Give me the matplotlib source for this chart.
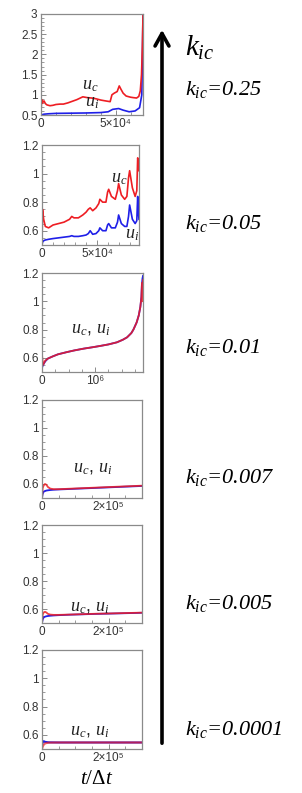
import matplotlib
matplotlib.use('Agg')

import matplotlib.pyplot as plt
from matplotlib.ticker import MultipleLocator

plt.rcParams['mathtext.fontset'] = 'custom'
plt.rcParams['mathtext.it'] = 'Liberation Serif:italic'
plt.rcParams['mathtext.rm'] = 'Liberation Serif'
plt.rcParams['font.family'] = ['Liberation Sans', 'DejaVu Sans']

# ---- data ----
kic_values = ['0.25', '0.05', '0.01', '0.007', '0.005', '0.0001']

# k_ic = 0.25
t1 = [0, 500, 1000, 2000, 3000, 4000, 6000, 8000, 10000, 12800, 15000, 18000, 21000, 24000,
      28000, 31000, 34000, 37000, 40000, 43000, 46300, 47500, 49000, 51000, 52400, 53500,
      55000, 57000, 60000, 61800, 64000, 65500, 66500, 67300, 67900, 68300]
uc1 = [0.6, 0.88, 0.8, 0.85, 0.78, 0.75, 0.73, 0.74, 0.76, 0.77, 0.77, 0.8, 0.84, 0.88,
       0.95, 0.93, 0.92, 0.9, 0.87, 0.85, 0.83, 1.0, 1.04, 1.08, 1.22, 1.14,
       1.04, 0.97, 0.94, 0.93, 0.92, 0.96, 1.1, 1.5, 2.2, 3.0]
t1i = [0, 2000, 5000, 10000, 20000, 30000, 40000, 45000, 48000, 50000, 52000, 55000,
       59000, 63000, 66000, 67500, 68300]
ui1 = [0.5, 0.52, 0.53, 0.54, 0.545, 0.55, 0.56, 0.58, 0.64, 0.65, 0.66, 0.62,
       0.58, 0.6, 0.68, 1.0, 3.0]

# k_ic = 0.05
t2 = [0, 500, 1500, 3000, 6000, 10000, 15000, 20000, 25000, 27000, 29000, 33000, 37000,
      40000, 42000, 43700, 46000, 49000, 51500, 52500, 55000, 58000, 59500, 60500, 63000,
      66500, 68500, 69500, 72000, 75000, 77000, 78500, 79500, 82000, 84500, 86000, 86800,
      87500, 88000]
uc2 = [0.5, 0.75, 0.68, 0.63, 0.62, 0.64, 0.65, 0.66, 0.68, 0.70, 0.69, 0.69, 0.71,
       0.73, 0.75, 0.76, 0.74, 0.76, 0.79, 0.82, 0.80, 0.80, 0.87, 0.89, 0.84,
       0.82, 0.88, 0.93, 0.85, 0.82, 0.84, 0.97, 1.02, 0.90, 0.84, 0.88, 1.11,
       1.08, 1.02]
ui2 = [0.5, 0.52, 0.53, 0.535, 0.54, 0.545, 0.55, 0.555, 0.56, 0.565, 0.56, 0.56, 0.565,
       0.57, 0.58, 0.60, 0.575, 0.58, 0.60, 0.62, 0.60, 0.60, 0.64, 0.65, 0.62,
       0.62, 0.66, 0.71, 0.65, 0.63, 0.63, 0.70, 0.78, 0.68, 0.65, 0.67, 0.84,
       0.72, 0.68]

# k_ic = 0.01
t3 = [0, 20000, 60000, 110000, 200000, 300000, 460000, 600000, 780000, 950000, 1090000,
      1250000, 1410000, 1520000, 1600000, 1680000, 1720000, 1780000, 1820000, 1850000,
      1870000, 1880000, 1890000, 1900000]
uc3 = [0.62, 0.55, 0.58, 0.595, 0.61, 0.625, 0.64, 0.652, 0.665, 0.675, 0.684,
       0.695, 0.71, 0.728, 0.745, 0.775, 0.80, 0.85, 0.9, 0.96,
       1.03, 1.13, 1.0, 1.15]
ui3 = [0.53, 0.55, 0.575, 0.595, 0.61, 0.625, 0.64, 0.652, 0.665, 0.675, 0.684,
       0.695, 0.71, 0.728, 0.745, 0.775, 0.80, 0.85, 0.9, 0.96,
       1.03, 1.12, 1.16, 1.18]

# k_ic = 0.007
t4 = [0, 2000, 5000, 9000, 13000, 18000, 25000, 35000, 50000, 80000, 120000, 160000,
      200000, 250000, 300000]
uc4 = [0.5, 0.57, 0.59, 0.60, 0.595, 0.578, 0.567, 0.563, 0.563, 0.566, 0.570, 0.574,
       0.578, 0.583, 0.588]
ui4 = [0.5, 0.53, 0.545, 0.55, 0.553, 0.555, 0.557, 0.559, 0.561, 0.564, 0.568, 0.572,
       0.576, 0.581, 0.586]

# k_ic = 0.005
t5 = [0, 2000, 5000, 9000, 13000, 18000, 25000, 35000, 50000, 80000, 120000, 160000,
      200000, 250000, 300000]
uc5 = [0.5, 0.56, 0.575, 0.58, 0.575, 0.565, 0.56, 0.558, 0.558, 0.56, 0.563, 0.566,
       0.568, 0.571, 0.574]
ui5 = [0.5, 0.525, 0.54, 0.545, 0.548, 0.55, 0.552, 0.554, 0.556, 0.559, 0.562, 0.565,
       0.567, 0.57, 0.573]

# k_ic = 0.0001
t6 = [0, 2000, 5000, 10000, 20000, 50000, 100000, 200000, 300000]
uc6 = [0.5, 0.515, 0.53, 0.54, 0.545, 0.546, 0.546, 0.546, 0.546]
ui6 = [0.52, 0.55, 0.555, 0.55, 0.547, 0.546, 0.546, 0.546, 0.546]

yt_small = [0.6, 0.8, 1.0, 1.2]
yl_small = ['0.6', '0.8', '1', '1.2']
yt_big = [0.5, 1.0, 1.5, 2.0, 2.5, 3.0]
yl_big = ['0.5', '1', '1.5', '2', '2.5', '3']

RED = '#ee1d23'
BLUE = '#1f1fe8'
FRAME = '#8a8a8a'
TXT = '#333333'

W, H = 302, 793
fig = plt.figure(figsize=(W / 100, H / 100), dpi=100)


def make_ax(l, t, r, b):
    return fig.add_axes([l / W, 1 - b / H, (r - l) / W, (b - t) / H])


def style(ax, xmax, xticks, xlabels, xminor, yt, yl, ymin, ymax, yminor):
    ax.set_xlim(0, xmax)
    ax.set_ylim(ymin, ymax)
    ax.set_xticks(xticks)
    ax.set_xticklabels(xlabels)
    ax.set_yticks(yt)
    ax.set_yticklabels(yl)
    ax.xaxis.set_minor_locator(MultipleLocator(xminor))
    ax.yaxis.set_minor_locator(MultipleLocator(yminor))
    ax.tick_params(which='both', direction='in', colors=FRAME, labelcolor=TXT,
                   labelsize=8.5, pad=2.5)
    ax.tick_params(which='major', length=3.5, width=0.7)
    ax.tick_params(which='minor', length=2, width=0.6)
    for s in ax.spines.values():
        s.set_color(FRAME)
        s.set_linewidth(0.9)


def ulabel(ax, x, y, txt):
    ax.text(x, y, txt, transform=ax.transAxes, fontsize=13, ha='center', va='center',
            color='#222222')


# panel 1
ax = make_ax(41, 14, 143, 115)
ax.plot(t1i, ui1, color=BLUE, lw=1.2)
ax.plot(t1, uc1, color=RED, lw=1.2)
style(ax, 68300, [0, 50000], ['0', '5×10⁴'], 10000, yt_big, yl_big, 0.5, 3.0, 0.1)
ulabel(ax, 0.48, 0.29, r'$u_c$')
ulabel(ax, 0.50, 0.12, r'$u_i$')

# panel 2
ax = make_ax(42, 145, 139, 245)
ax.plot(t2, ui2, color=BLUE, lw=1.2)
ax.plot(t2, uc2, color=RED, lw=1.2)
style(ax, 88000, [0, 50000], ['0', '5×10⁴'], 10000, yt_small, yl_small, 0.5, 1.2, 0.05)
ulabel(ax, 0.80, 0.66, r'$u_c$')
ulabel(ax, 0.93, 0.10, r'$u_i$')

# panel 3
ax = make_ax(42, 273, 143, 372)
ax.plot(t3, ui3, color=BLUE, lw=1.3)
ax.plot(t3, uc3, color=RED, lw=1.3, alpha=0.85)
style(ax, 1900000, [0, 1000000], ['0', '10⁶'], 250000, yt_small, yl_small, 0.5, 1.2, 0.05)
ulabel(ax, 0.48, 0.43, r'$u_c$, $u_i$')

# panel 4
ax = make_ax(42, 400, 142, 498)
ax.plot(t4, ui4, color=BLUE, lw=1.3)
ax.plot(t4, uc4, color=RED, lw=1.3, alpha=0.85)
style(ax, 300000, [0, 200000], ['0', '2×10⁵'], 50000, yt_small, yl_small, 0.5, 1.2, 0.05)
ulabel(ax, 0.51, 0.30, r'$u_c$, $u_i$')

# panel 5
ax = make_ax(42, 525, 142, 623)
ax.plot(t5, ui5, color=BLUE, lw=1.3)
ax.plot(t5, uc5, color=RED, lw=1.3, alpha=0.85)
style(ax, 300000, [0, 200000], ['0', '2×10⁵'], 50000, yt_small, yl_small, 0.5, 1.2, 0.05)
ulabel(ax, 0.48, 0.16, r'$u_c$, $u_i$')

# panel 6
ax = make_ax(42, 650, 142, 749)
ax.plot(t6, ui6, color=BLUE, lw=1.5)
ax.plot(t6, uc6, color=RED, lw=1.5, alpha=0.7)
style(ax, 300000, [0, 200000], ['0', '2×10⁵'], 50000, yt_small, yl_small, 0.5, 1.2, 0.05)
ulabel(ax, 0.48, 0.18, r'$u_c$, $u_i$')

fig.text(97 / W, 1 - 778 / H, r'$t/\Delta t$', fontsize=15, ha='center', va='center')

# big arrow on the right
fig.add_artist(matplotlib.patches.FancyArrowPatch(
    (162 / W, 1 - 746 / H), (162 / W, 1 - 27 / H), transform=fig.transFigure,
    arrowstyle='->,head_width=0.25,head_length=0.45', lw=2.6, color='black',
    mutation_scale=20))

fig.text(185 / W, 1 - 48 / H, r'$k_{ic}$', fontsize=21, ha='left', va='center')
label_y = [89, 223, 347, 478, 603, 730]
for v, yy in zip(kic_values, label_y):
    fig.text(185 / W, 1 - yy / H, r'$k_{ic}$=' + v, fontsize=16, ha='left', va='center',
             family='Liberation Serif', style='italic')

fig.savefig('out.png', dpi=100)
